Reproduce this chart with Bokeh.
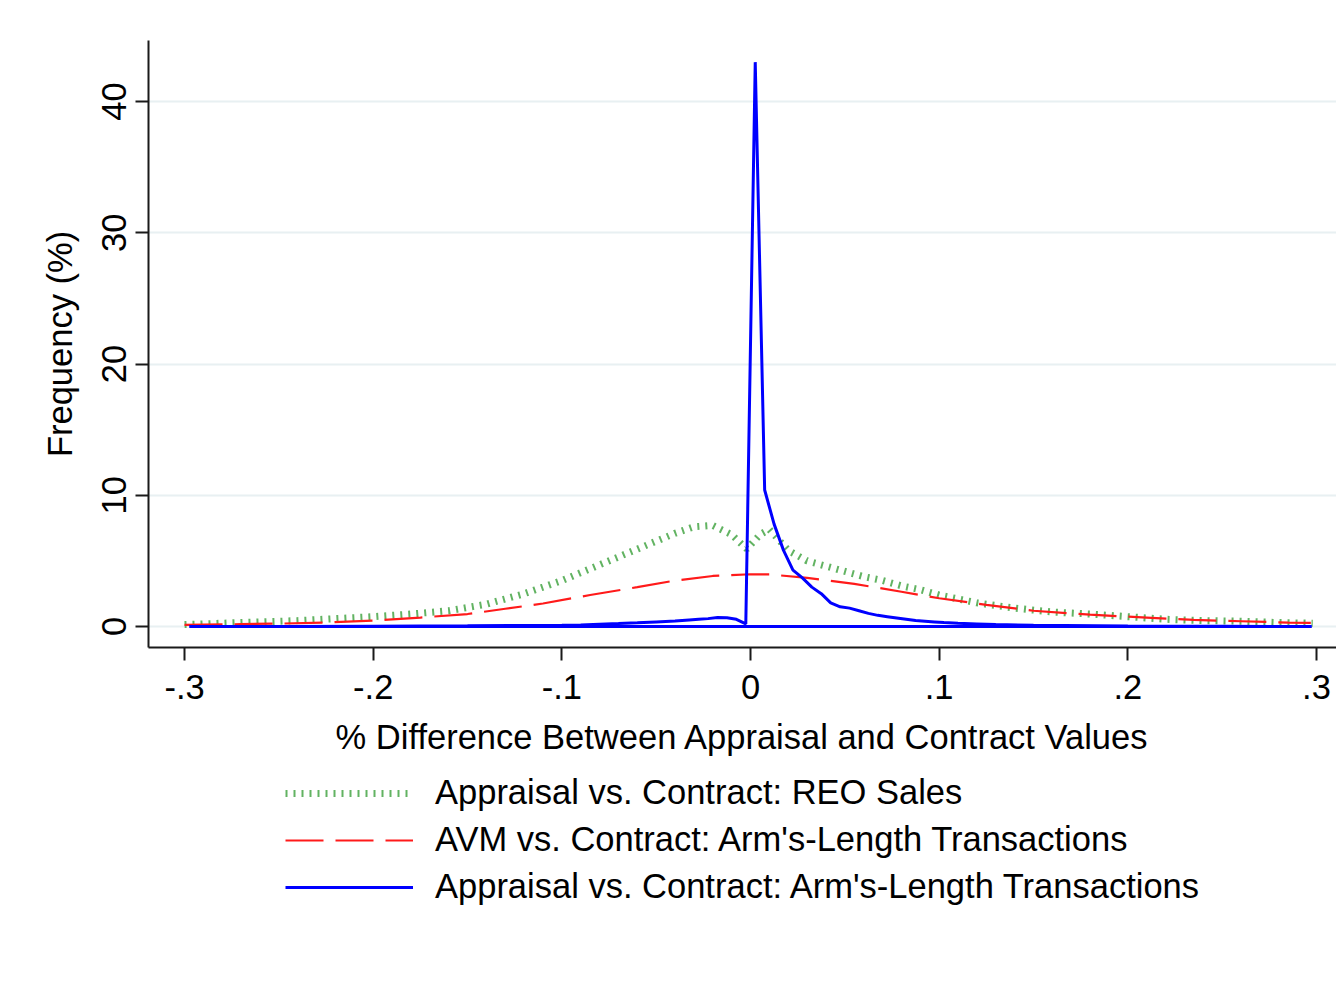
from bokeh.plotting import figure
from bokeh.layouts import column
from bokeh.models import FixedTicker, Range1d, Legend, LegendItem
from bokeh.embed import file_html
from bokeh.resources import INLINE

# ---- data ----
reo_x = [-0.30, -0.28, -0.26, -0.24, -0.22, -0.20, -0.18, -0.16, -0.14, -0.12, -0.11, -0.10,
         -0.09, -0.08, -0.07, -0.06, -0.05, -0.04, -0.03, -0.02, -0.01, -0.002, 0.005, 0.01,
         0.02, 0.03, 0.04, 0.05, 0.06, 0.07, 0.08, 0.09, 0.10, 0.12, 0.14, 0.16, 0.18,
         0.20, 0.22, 0.24, 0.26, 0.28, 0.298]
reo_y = [0.15, 0.25, 0.35, 0.45, 0.6, 0.75, 0.95, 1.2, 1.7, 2.5, 3.0, 3.5,
         4.1, 4.7, 5.3, 5.9, 6.5, 7.1, 7.6, 7.7, 7.0, 5.9, 7.0, 7.4,
         5.8, 5.0, 4.6, 4.2, 3.8, 3.5, 3.1, 2.8, 2.4, 1.8, 1.4, 1.1, 0.95,
         0.75, 0.55, 0.45, 0.4, 0.3, 0.25]

avm_x = [-0.30, -0.27, -0.25, -0.225, -0.20, -0.175, -0.15, -0.13, -0.11, -0.085, -0.06,
         -0.04, -0.02, 0.0, 0.01, 0.03, 0.055, 0.08, 0.10, 0.125, 0.15, 0.18, 0.21,
         0.235, 0.26, 0.285, 0.297]
avm_y = [0.12, 0.18, 0.22, 0.3, 0.45, 0.68, 0.95, 1.35, 1.75, 2.4, 3.0,
         3.5, 3.85, 3.98, 3.97, 3.7, 3.25, 2.65, 2.15, 1.65, 1.2, 0.9, 0.68,
         0.5, 0.4, 0.3, 0.28]

arm_x = [-0.2975, -0.25, -0.20, -0.15, -0.10, -0.09, -0.08, -0.07, -0.06, -0.05, -0.04,
         -0.0325, -0.0275, -0.0225, -0.0175, -0.0125, -0.0075, -0.0025, 0.0025, 0.0075,
         0.0125, 0.0175, 0.0225, 0.0275, 0.0325, 0.0375, 0.0425, 0.0475, 0.0525, 0.0575,
         0.0625, 0.0675, 0.0725, 0.0775, 0.0825, 0.0875, 0.0925, 0.0975, 0.1025, 0.11,
         0.12, 0.13, 0.15, 0.20, 0.25, 0.2975, -0.2975]
arm_y = [0.0, 0.0, 0.02, 0.05, 0.1, 0.12, 0.17, 0.22, 0.28, 0.35, 0.42,
         0.5, 0.55, 0.6, 0.68, 0.66, 0.55, 0.2, 43.0, 10.4,
         7.8, 5.8, 4.3, 3.7, 3.0, 2.5, 1.8, 1.5, 1.4, 1.2,
         1.0, 0.85, 0.75, 0.65, 0.55, 0.45, 0.4, 0.35, 0.3, 0.25,
         0.2, 0.15, 0.1, 0.04, 0.02, 0.0, 0.0]

x_ticks = [-0.3, -0.2, -0.1, 0.0, 0.1, 0.2, 0.3]
x_tick_labels = ["-.3", "-.2", "-.1", "0", ".1", ".2", ".3"]
y_ticks = [0, 10, 20, 30, 40]
y_tick_labels = ["0", "10", "20", "30", "40"]

labels = ["Appraisal vs. Contract: REO Sales",
          "AVM vs. Contract: Arm's-Length Transactions",
          "Appraisal vs. Contract: Arm's-Length Transactions"]

FONT = "Liberation Sans"
FS = "34.5px"

GREEN = dict(line_color="#2e9a2e", line_width=7, line_dash="2 6", line_alpha=0.75)
RED = dict(line_color="#ff1a1a", line_width=2.2, line_dash="38 12")
BLUE = dict(line_color="#0000ff", line_width=3)

p = figure(frame_width=1188, frame_height=607, output_backend="svg", toolbar_location=None,
           x_range=Range1d(-0.3191, 0.3106), y_range=Range1d(-1.6, 44.65),
           min_border_left=148, min_border_right=0, min_border_top=40, min_border_bottom=125)
p.outline_line_color = None
p.background_fill_color = "white"

p.line(reo_x, reo_y, **GREEN)
p.line(avm_x, avm_y, **RED)
p.line(arm_x, arm_y, **BLUE)

for ax in (p.xaxis[0], p.yaxis[0]):
    ax.axis_line_color = "#1a1a1a"
    ax.axis_line_width = 2
    ax.major_tick_line_color = "#1a1a1a"
    ax.major_tick_line_width = 2
    ax.major_tick_out = 13
    ax.major_tick_in = 0
    ax.minor_tick_line_color = None
    ax.major_label_text_font = FONT
    ax.major_label_text_font_size = FS
    ax.major_label_text_color = "black"
    ax.axis_label_text_font = FONT
    ax.axis_label_text_font_size = FS
    ax.axis_label_text_font_style = "normal"
    ax.axis_label_text_color = "black"

p.xaxis.ticker = FixedTicker(ticks=x_ticks)
p.xaxis.major_label_overrides = {t: l for t, l in zip(x_ticks, x_tick_labels)}
p.yaxis.ticker = FixedTicker(ticks=y_ticks)
p.yaxis.major_label_overrides = {t: l for t, l in zip(y_ticks, y_tick_labels)}
p.yaxis.major_label_orientation = "vertical"
p.xaxis.axis_label = "% Difference Between Appraisal and Contract Values"
p.yaxis.axis_label = "Frequency (%)"
p.xaxis.major_label_standoff = 14
p.xaxis.axis_label_standoff = 16
p.yaxis.major_label_standoff = 9
p.yaxis.axis_label_standoff = 21

p.xgrid.grid_line_color = None
p.ygrid.grid_line_color = "#e8f0f2"
p.ygrid.grid_line_width = 2

# legend panel: a second, axis-less figure whose series lie outside its view
leg = figure(width=1336, height=150, output_backend="svg", toolbar_location=None,
             x_range=Range1d(-0.3191, 0.3106), y_range=Range1d(100, 200),
             min_border=0, x_axis_location=None, y_axis_location=None)
leg.outline_line_color = None
leg.xgrid.grid_line_color = None
leg.ygrid.grid_line_color = None
g2 = leg.line(reo_x, reo_y, **GREEN)
r2 = leg.line(avm_x, avm_y, **RED)
b2 = leg.line(arm_x, arm_y, **BLUE)

legend = Legend(items=[LegendItem(label=labels[0], renderers=[g2]),
                       LegendItem(label=labels[1], renderers=[r2]),
                       LegendItem(label=labels[2], renderers=[b2])],
                location=(137, 16), orientation="vertical",
                glyph_width=128, glyph_height=30, label_height=30, spacing=8,
                label_standoff=22, padding=0, margin=0,
                border_line_color=None, background_fill_alpha=0,
                label_text_font=FONT, label_text_font_size=FS, label_text_color="black")
leg.add_layout(legend, "center")

layout = column(p, leg, spacing=0)
open("out.html", "w").write(file_html(layout, INLINE))
